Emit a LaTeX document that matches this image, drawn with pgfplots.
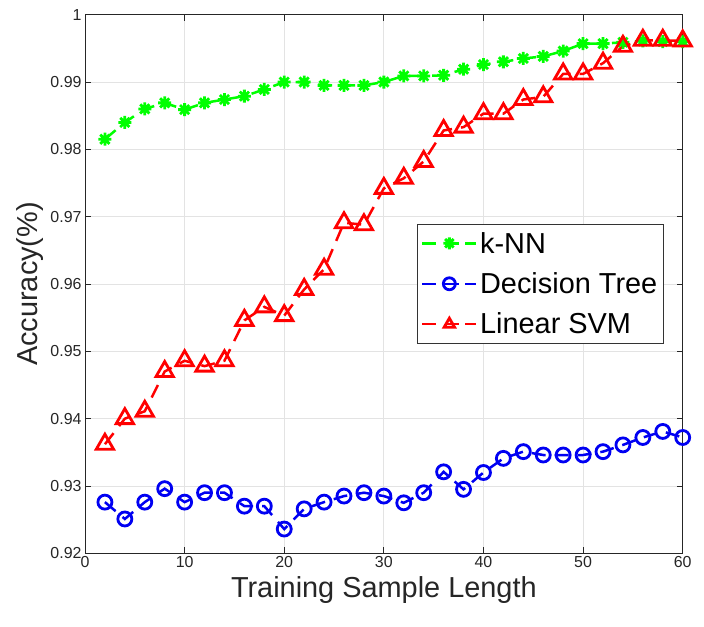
\documentclass[border=0pt]{standalone}
\usepackage{pgfplots}
\pgfplotsset{compat=1.18}
\usepackage{fontspec}
\setmainfont{Liberation Sans}
\usetikzlibrary{calc}
\definecolor{axgray}{gray}{0.15}
\definecolor{mgreen}{rgb}{0,1,0}
\definecolor{mblue}{rgb}{0,0,0.95}
\definecolor{mred}{rgb}{1,0,0}
\pgfdeclareplotmark{ast8}{%
  \pgfpathmoveto{\pgfqpoint{-\pgfplotmarksize}{0pt}}\pgfpathlineto{\pgfqpoint{\pgfplotmarksize}{0pt}}%
  \pgfpathmoveto{\pgfqpoint{0pt}{-\pgfplotmarksize}}\pgfpathlineto{\pgfqpoint{0pt}{\pgfplotmarksize}}%
  \pgfpathmoveto{\pgfqpoint{-0.7071\pgfplotmarksize}{-0.7071\pgfplotmarksize}}\pgfpathlineto{\pgfqpoint{0.7071\pgfplotmarksize}{0.7071\pgfplotmarksize}}%
  \pgfpathmoveto{\pgfqpoint{-0.7071\pgfplotmarksize}{0.7071\pgfplotmarksize}}\pgfpathlineto{\pgfqpoint{0.7071\pgfplotmarksize}{-0.7071\pgfplotmarksize}}%
  \pgfusepathqstroke}
\begin{document}
\begin{tikzpicture}
\begin{axis}[
  scale only axis, width=597.7bp, height=538.6bp,
  xmin=0, xmax=60, ymin=0.92, ymax=1,
  xtick={0,10,20,30,40,50,60},
  ytick={0.92,0.93,0.94,0.95,0.96,0.97,0.98,0.99,1},
  scaled y ticks=false,
  /pgf/number format/assume math mode=true,
  yticklabel style={/pgf/number format/fixed},
  tick label style={font=\fontsize{16}{18}\selectfont, text=axgray},
  label style={font=\fontsize{29}{33}\selectfont, text=axgray},
  xlabel={Training Sample Length},
  ylabel={Accuracy(\%)},
  xlabel style={yshift=-2bp},
  ylabel style={yshift=0bp},
  axis line style={axgray, line width=1bp},
  tick style={axgray, line width=0.8bp},
  major tick length=6bp,
  tick align=inside,
  grid=major,
  grid style={gray!22, line width=0.8bp},
  legend cell align=left,
  legend style={at={(0.969,0.611)}, anchor=north east, draw=black!80, line width=0.8bp,
    font=\fontsize{29}{32}\selectfont, inner xsep=4bp, inner ysep=5bp, row sep=13bp,
    nodes={inner sep=2.5bp}},
  legend image code/.code={%
    \draw[dash pattern=on 11bp off 32bp] (0bp,0bp) -- (54bp,0bp);
    \path[mark repeat=2,mark phase=2, mark size=6bp] plot coordinates {(0bp,0bp)(27bp,0bp)(54bp,0bp)};},
]
\coordinate (bl) at (rel axis cs:0,0);
\coordinate (tr) at (rel axis cs:1,1);
\addplot[mgreen, line width=2.5bp, dash pattern=on 14bp off 9bp, mark=ast8, mark size=6.5bp, mark options={solid, line width=2.8bp}] coordinates {
(2,0.9815)(4,0.9840)(6,0.9860)(8,0.9869)(10,0.9859)(12,0.9869)(14,0.9874)(16,0.9879)(18,0.9889)(20,0.9900)
(22,0.9900)(24,0.9895)(26,0.9895)(28,0.9895)(30,0.9900)(32,0.9909)(34,0.9909)(36,0.9910)(38,0.9919)(40,0.9926)
(42,0.9930)(44,0.9935)(46,0.9938)(48,0.9946)(50,0.9957)(52,0.9957)(54,0.9959)(56,0.9961)(58,0.9960)(60,0.9960)};
\addlegendentry{k-NN}
\addplot[mblue, line width=2.5bp, dash pattern=on 14bp off 9bp, mark=o, mark size=7bp, mark options={solid, line width=2.8bp}] coordinates {
(2,0.9276)(4,0.9251)(6,0.9276)(8,0.9296)(10,0.9276)(12,0.9290)(14,0.9290)(16,0.9270)(18,0.9270)(20,0.9236)
(22,0.9266)(24,0.9276)(26,0.9285)(28,0.9290)(30,0.9285)(32,0.9275)(34,0.9290)(36,0.9321)(38,0.9295)(40,0.9320)
(42,0.9341)(44,0.9351)(46,0.9346)(48,0.9346)(50,0.9346)(52,0.9351)(54,0.9361)(56,0.9372)(58,0.9381)(60,0.9372)};
\addlegendentry{Decision Tree}
\addplot[mred, line width=2.5bp, dash pattern=on 14bp off 9bp, mark=triangle, mark size=10bp, mark options={solid, line width=2.8bp}] coordinates {
(2,0.9362)(4,0.9400)(6,0.9411)(8,0.9470)(10,0.9486)(12,0.9478)(14,0.9486)(16,0.9546)(18,0.9566)(20,0.9553)
(22,0.9592)(24,0.9622)(26,0.9691)(28,0.9688)(30,0.9742)(32,0.9757)(34,0.9782)(36,0.9828)(38,0.9833)(40,0.9853)
(42,0.9853)(44,0.9874)(46,0.9878)(48,0.9912)(50,0.9912)(52,0.9928)(54,0.9953)(56,0.9962)(58,0.9962)(60,0.9961)};
\addlegendentry{Linear SVM}
\end{axis}
\pgfresetboundingbox
\path ($(bl)+(-85bp,-73.7bp)$) rectangle ($(tr)+(21.3bp,14.7bp)$);
\end{tikzpicture}
\end{document}
